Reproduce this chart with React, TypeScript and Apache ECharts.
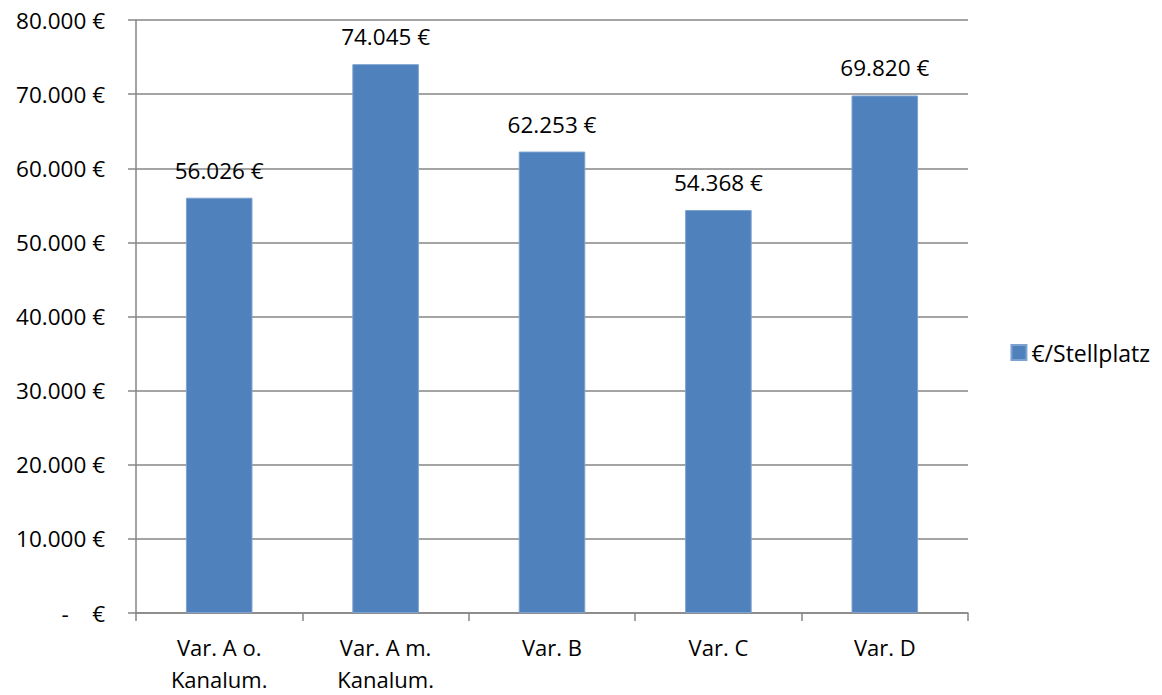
import React, { useEffect, useRef } from "react";
import * as echarts from "echarts";

const categories = ["Var. A o.\nKanalum.", "Var. A m.\nKanalum.", "Var. B", "Var. C", "Var. D"];
const values = [56026, 74045, 62253, 54368, 69820];
const seriesName = "€/Stellplatz";

const FONT = "Open Sans";

function fmt(v: number): string {
  if (v === 0) return "-    €";
  return v.toLocaleString("de-DE").replace(/,/g, ".") + " €";
}

export default function App() {
  const ref = useRef<HTMLDivElement>(null);
  useEffect(() => {
    if (!ref.current) return;
    const chart = echarts.init(ref.current, undefined, { renderer: "svg" });
    chart.setOption({
      animation: false,
      textStyle: { fontFamily: FONT },
      grid: { left: 136, right: 194, top: 20, bottom: 78, containLabel: false },
      legend: {
        right: 7,
        top: 336,
        orient: "vertical",
        itemWidth: 15,
        itemHeight: 15,
        itemGap: 4,
        icon: "rect",
        textStyle: { fontFamily: FONT, fontSize: 23, color: "#000", padding: [0, 0, 0, 0] },
        data: [seriesName],
      },
      xAxis: {
        type: "category",
        data: categories,
        axisLine: { lineStyle: { color: "#868686", width: 1.5 } },
        axisTick: { show: true, length: 8, lineStyle: { color: "#868686", width: 1.5 } },
        axisLabel: { fontFamily: FONT, fontSize: 22, color: "#000", lineHeight: 32, margin: 18 },
      },
      yAxis: {
        type: "value",
        min: 0,
        max: 80000,
        interval: 10000,
        axisLine: { show: true, lineStyle: { color: "#868686", width: 1.5 } },
        axisTick: { show: true, length: 8, lineStyle: { color: "#868686", width: 1.5 } },
        splitLine: { show: true, lineStyle: { color: "#868686", width: 1.5 } },
        axisLabel: { fontFamily: FONT, fontSize: 22.5, color: "#000", margin: 31, formatter: (v: number) => fmt(v) },
      },
      series: [
        {
          name: seriesName,
          type: "bar",
          data: values,
          barWidth: "40%",
          itemStyle: { color: "#4F81BD", borderColor: "#7EA2D0", borderWidth: 1 },
          label: {
            show: true,
            position: "top",
            distance: 16,
            fontFamily: FONT,
            fontSize: 22.5,
            color: "#000",
            formatter: (p: any) => fmt(p.value),
          },
        },
      ],
    });
    return () => chart.dispose();
  }, []);
  return <div ref={ref} style={{ width: 1162, height: 695, position: "absolute", left: 0, top: 0, background: "#fff" }} />;
}
